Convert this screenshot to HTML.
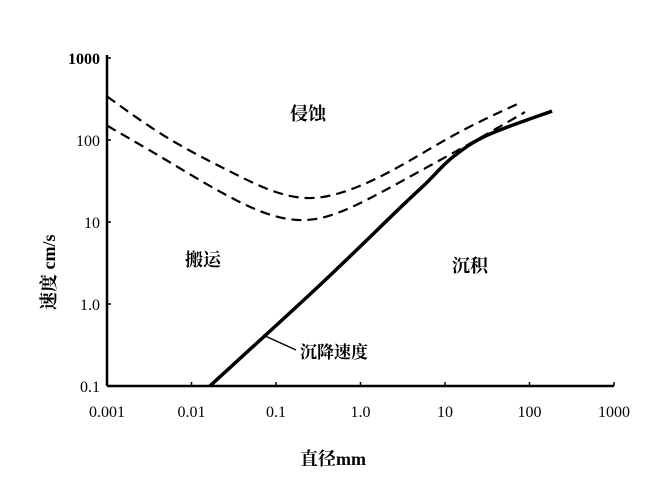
<!DOCTYPE html>
<html><head><meta charset="utf-8"><style>
body{margin:0;background:#fff;}
svg{display:block;font-family:"Liberation Serif","Noto Serif CJK SC",serif;}
</style></head><body>
<svg id="c" width="650" height="500"></svg>
<script>
const xTicks=[0.001,0.01,0.1,1,10,100,1000];
const xTickLabels=["0.001","0.01","0.1","1.0","10","100","1000"];
const yTicks=[0.1,1,10,100,1000];
const yTickLabels=["0.1","1.0","10","100","1000"];
const upperD=[0.001,0.0046,0.029,0.233,0.77,3.1,12.8,81];
const upperV=[340,115,41,19.6,25,49.6,115,290];
const lowerD=[0.001,0.0046,0.029,0.233,1.23,4.9,20.3,88.5];
const lowerV=[150,60,20,10.6,19,41,92,219];
const settleD=[0.0165,0.33,3.1,6,12.4,32,185];
const settleV=[0.1,1.7,15.7,29.8,62,115,225];

const NS="http://www.w3.org/2000/svg";
const svg=document.getElementById('c');
const X=d=>107+84.5*(Math.log10(d)+3);
const Y=v=>386-82*(Math.log10(v)+1);
function mk(t,a,txt){const e=document.createElementNS(NS,t);for(const k in a)e.setAttribute(k,a[k]);if(txt!==undefined)e.textContent=txt;svg.appendChild(e);return e;}
function spline(ds,vs){
 const xs=ds.map(X),ys=vs.map(Y),n=xs.length;
 const h=[],al=[0],l=[1],mu=[0],z=[0],c=new Array(n).fill(0),b=[],d=[];
 for(let i=0;i<n-1;i++)h.push(xs[i+1]-xs[i]);
 for(let i=1;i<n-1;i++)al[i]=3/h[i]*(ys[i+1]-ys[i])-3/h[i-1]*(ys[i]-ys[i-1]);
 for(let i=1;i<n-1;i++){l[i]=2*(xs[i+1]-xs[i-1])-h[i-1]*mu[i-1];mu[i]=h[i]/l[i];z[i]=(al[i]-h[i-1]*z[i-1])/l[i];}
 for(let j=n-2;j>=0;j--){c[j]=(j>0?z[j]:0)-mu[j]*c[j+1];b[j]=(ys[j+1]-ys[j])/h[j]-h[j]*(c[j+1]+2*c[j])/3;d[j]=(c[j+1]-c[j])/(3*h[j]);}
 let s=`M${xs[0]},${ys[0]}`;
 for(let j=0;j<n-1;j++){for(let t=2;t<=h[j];t+=2){s+=` L${xs[j]+t},${ys[j]+b[j]*t+c[j]*t*t+d[j]*t*t*t}`;}s+=` L${xs[j+1]},${ys[j+1]}`;}
 return s;}
function cr(ds,vs){const p=ds.map((d,i)=>[X(d),Y(vs[i])]);let s=`M${p[0][0]},${p[0][1]}`;
 for(let i=0;i<p.length-1;i++){const p0=p[i-1]||p[i],p1=p[i],p2=p[i+1],p3=p[i+2]||p2;
 s+=` C${p1[0]+(p2[0]-p0[0])/6},${p1[1]+(p2[1]-p0[1])/6} ${p2[0]-(p3[0]-p1[0])/6},${p2[1]-(p3[1]-p1[1])/6} ${p2[0]},${p2[1]}`;}return s;}

let e;
e=mk('line',{x1:X(0.001),y1:Y(0.1),x2:X(1000),y2:Y(0.1),stroke:'#000','stroke-width':2.5});

e=mk('line',{x1:X(0.001),y1:Y(0.1),x2:X(0.001),y2:Y(1000)-3,stroke:'#000','stroke-width':2.5});

xTicks.forEach((t,i)=>{
 e=mk('line',{x1:X(t),y1:Y(0.1),x2:X(t),y2:Y(0.1)-4,stroke:'#000','stroke-width':1.5});
 
 e=mk('text',{x:X(t),y:417,'text-anchor':'middle','font-size':16},xTickLabels[i]);
 
});
yTicks.forEach((t,i)=>{
 e=mk('line',{x1:X(0.001),y1:Y(t),x2:X(0.001)+4,y2:Y(t),stroke:'#000','stroke-width':1.5});
 
 e=mk('text',{x:100,y:Y(t)+6,'text-anchor':'end','font-size':16,'font-weight':t==1000?'bold':'normal'},yTickLabels[i]);
 
});
e=mk('path',{d:spline(upperD,upperV),fill:'none',stroke:'#000','stroke-width':2.2,'stroke-dasharray':'10 6'});

e=mk('path',{d:spline(lowerD,lowerV),fill:'none',stroke:'#000','stroke-width':2.2,'stroke-dasharray':'10 6'});

e=mk('path',{d:cr(settleD,settleV),fill:'none',stroke:'#000','stroke-width':3.5});

e=mk('line',{x1:263,y1:335,x2:296,y2:350,stroke:'#000','stroke-width':1.5});

e=mk('text',{x:300,y:358,'font-size':17,'font-weight':'bold'},'沉降速度');

e=mk('text',{x:290,y:120,'font-size':18,'font-weight':'bold'},'侵蚀');

e=mk('text',{x:185,y:266,'font-size':18,'font-weight':'bold'},'搬运');

e=mk('text',{x:452,y:272,'font-size':18,'font-weight':'bold'},'沉积');

e=mk('text',{x:300,y:465,'font-size':18,'font-weight':'bold'},'直径mm');

e=mk('text',{x:55,y:310,'font-size':18,'font-weight':'bold',transform:'rotate(-90 55 310)'},'速度  cm/s');

</script>
</body></html>
